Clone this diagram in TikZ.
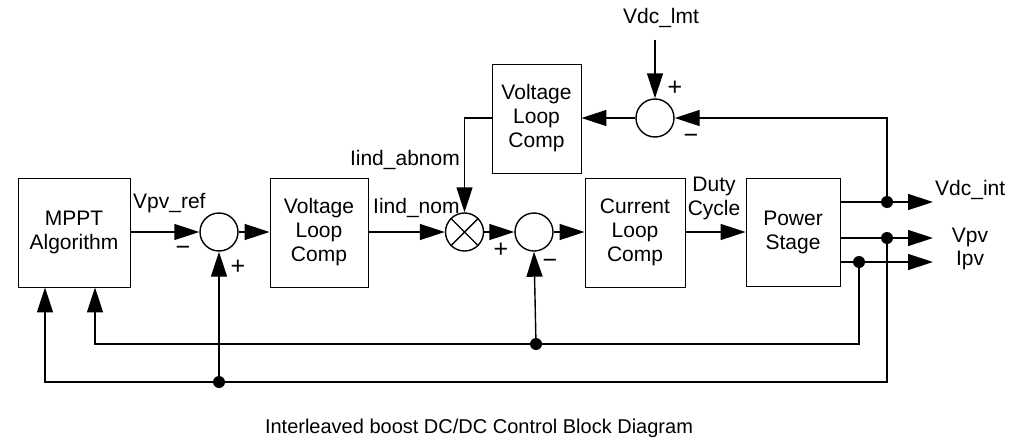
\documentclass[tikz,border=0pt]{standalone}
\usepackage{fontspec}
\setmainfont{Liberation Sans}
\usetikzlibrary{arrows.meta}
\begin{document}
\begin{tikzpicture}[x=1pt,y=-1pt,
  font=\fontsize{21}{24}\selectfont,
  blk/.style={draw,line width=0.9pt,minimum height=109pt,align=center,inner sep=0pt},
  sumc/.style={draw,circle,line width=1.4pt,minimum size=38pt,inner sep=0pt},
  conn/.style={line width=1.4pt},
  arr/.style={conn,-{Triangle[length=25pt,width=16pt]}},
  dot/.style={circle,fill=black,inner sep=0pt,minimum size=12pt},
  lbl/.style={inner sep=0pt},
  sgn/.style={inner sep=0pt,font=\fontsize{25}{28}\selectfont}]
\useasboundingbox (0,0) rectangle (1016,444);
% blocks
\node[blk,minimum width=112pt] (mppt) at (74,232.5) {MPPT\\Algorithm};
\node[sumc] (s1) at (219,232) {};
\node[blk,minimum width=98pt] (vlc) at (319,232.5) {Voltage\\Loop\\Comp};
\node[sumc] (mul) at (464.5,232) {};
\draw[line width=1.4pt] (mul.45) -- (mul.225) (mul.135) -- (mul.315);
\node[sumc] (s2) at (534,232) {};
\node[blk,minimum width=100pt] (clc) at (635,232.5) {Current\\Loop\\Comp};
\node[blk,minimum width=94pt,minimum height=108pt] (ps) at (793,232) {Power\\Stage};
\node[blk,minimum width=89pt] (vlc2) at (536.5,118.5) {Voltage\\Loop\\Comp};
\node[sumc] (s3) at (655,118) {};
% coordinates
\coordinate (o1) at (840,202);
\coordinate (o2) at (840,238);
\coordinate (o3) at (840,262);
\coordinate (e1) at (933,202);
\coordinate (e2) at (933,238);
\coordinate (e3) at (933,262);
\node[dot] (d1) at (887,202) {};
\node[dot] (d2) at (887,238) {};
\node[dot] (d3) at (859,262) {};
\node[dot] (d4) at (536,344) {};
\node[dot] (d5) at (219,382) {};
\coordinate (lmt) at (655,40);
\coordinate (ab) at (464.5,118);
\coordinate (fb1) at (887,118);
\coordinate (b1a) at (858,344);
\coordinate (b1b) at (95,344);
\coordinate (b2a) at (887,382);
\coordinate (b2b) at (45,382);
% main path
\draw[arr] (mppt.east |- s1) -- (s1.west);
\draw[arr] (s1.east) -- (vlc.west |- s1);
\draw[arr] (vlc.east |- mul) -- (mul.west);
\draw[arr] (mul.east) -- (s2.west);
\draw[arr] (s2.east) -- (clc.west |- s2);
\draw[arr] (clc.east |- s2) -- (ps.west |- s2);
% outputs
\draw[arr] (o1) -- (e1);
\draw[arr] (o2) -- (e2);
\draw[arr] (o3) -- (e3);
% upper loop
\draw[arr] (lmt) -- (s3.north);
\draw[arr] (d1.center) -- (fb1) -- (s3.east);
\draw[arr] (s3.west) -- (vlc2.east |- s3);
\draw[arr] (vlc2.west |- s3) -- (ab) -- (mul.north);
% feedback lines
\draw[conn] (d3.center) -- (d3.center |- b1a) -- (b1a) -- (d4.center);
\draw[arr] (d4.center) -- (b1b) -- (mppt.south -| b1b);
\draw[arr] (d4.center) -- (s2.south);
\draw[conn] (d2.center) -- (b2a) -- (d5.center);
\draw[arr] (d5.center) -- (b2b) -- (mppt.south -| b2b);
\draw[arr] (d5.center) -- (s1.south);
% labels
\node[lbl,anchor=west] (lvref) at (133,203) {Vpv\_ref};
\node[lbl,anchor=west] (lnom) at (373,208) {Iind\_nom};
\node[lbl,anchor=east] (labn) at (460,160) {Iind\_abnom};
\node[lbl,align=center] (ldc) at (714,198) {Duty\\Cycle};
\node[lbl,anchor=west] (lvdc) at (935,190) {Vdc\_int};
\node[lbl] (lvpv) at (970,237) {Vpv};
\node[lbl] (lipv) at (970,260) {Ipv};
\node[lbl] (llmt) at (661,18) {Vdc\_lmt};
% signs
\node[sgn] (m1) at (183,251) {\textminus};
\node[sgn] (p1) at (238,267) {+};
\node[sgn] (p2) at (501,250) {+};
\node[sgn] (m2) at (550,264) {\textminus};
\node[sgn] (p3) at (675,88) {+};
\node[sgn] (m3) at (691,139) {\textminus};
% caption
\node[lbl,font=\fontsize{20}{24}\selectfont] (cap) at (479,428) {Interleaved boost DC/DC Control Block Diagram};
\end{tikzpicture}
\end{document}
